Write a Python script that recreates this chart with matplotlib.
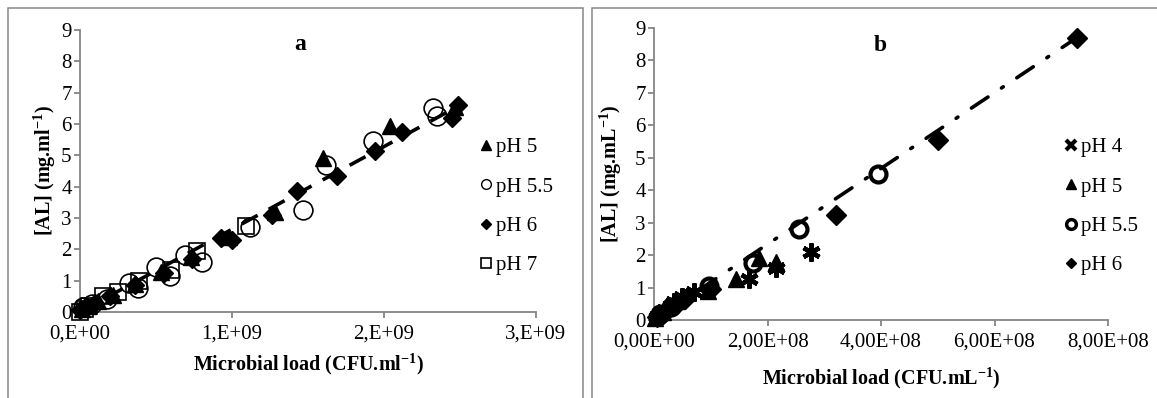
import matplotlib
matplotlib.use("Agg")
import matplotlib.pyplot as plt
from matplotlib.patches import Rectangle
from matplotlib.lines import Line2D
from matplotlib.ticker import FixedLocator, FixedFormatter

plt.rcParams['font.family'] = ['Liberation Serif', 'DejaVu Serif']
plt.rcParams['mathtext.fontset'] = 'custom'
plt.rcParams['mathtext.rm'] = 'Liberation Serif'
plt.rcParams['mathtext.bf'] = 'Liberation Serif:bold'
plt.rcParams['mathtext.it'] = 'Liberation Serif:italic'

# ---------------- Panel a data (x in CFU/ml) ----------------
a_ph5_x = [0.01e9, 0.05e9, 0.12e9, 0.22e9, 0.36e9, 0.53e9, 0.73e9, 0.98e9, 1.28e9, 1.60e9, 2.04e9, 2.47e9]
a_ph5_y = [0.10, 0.20, 0.35, 0.55, 0.90, 1.28, 1.75, 2.40, 3.20, 4.90, 5.95, 6.55]

a_ph55_x = [0.02e9, 0.08e9, 0.18e9, 0.32e9, 0.38e9, 0.50e9, 0.59e9, 0.69e9, 0.80e9, 1.12e9, 1.47e9, 1.62e9, 1.93e9, 2.32e9, 2.35e9]
a_ph55_y = [0.15, 0.25, 0.40, 0.93, 0.77, 1.44, 1.15, 1.82, 1.60, 2.70, 3.25, 4.70, 5.45, 6.50, 6.25]

a_ph6_x = [0.00e9, 0.04e9, 0.10e9, 0.20e9, 0.36e9, 0.55e9, 0.74e9, 0.93e9, 1.00e9, 1.26e9, 1.43e9, 1.69e9, 1.94e9, 2.12e9, 2.45e9, 2.49e9]
a_ph6_y = [0.05, 0.15, 0.30, 0.50, 0.86, 1.25, 1.70, 2.35, 2.30, 3.10, 3.85, 4.35, 5.15, 5.75, 6.20, 6.60]

a_ph7_x = [0.00e9, 0.03e9, 0.06e9, 0.15e9, 0.25e9, 0.39e9, 0.60e9, 0.77e9, 1.09e9]
a_ph7_y = [0.00, 0.10, 0.20, 0.50, 0.64, 1.00, 1.34, 1.95, 2.75]

a_trend_x = [0.0, 2.5e9]
a_trend_y = [0.0, 6.6]

a_xticks = [0, 1e9, 2e9, 3e9]
a_xticklabels = ["0,E+00", "1,E+09", "2,E+09", "3,E+09"]

# ---------------- Panel b data ----------------
b_ph4_x = [0.05e8, 0.20e8, 0.35e8, 0.50e8, 0.70e8, 1.67e8, 2.15e8, 2.77e8]
b_ph4_y = [0.10, 0.30, 0.55, 0.70, 0.85, 1.25, 1.60, 2.10]

b_ph5_x = [0.02e8, 0.15e8, 0.40e8, 0.95e8, 1.45e8, 1.85e8, 2.15e8]
b_ph5_y = [0.05, 0.25, 0.60, 0.90, 1.25, 1.90, 1.80]

b_ph55_x = [0.10e8, 0.30e8, 0.97e8, 1.75e8, 2.55e8, 3.95e8]
b_ph55_y = [0.20, 0.40, 1.05, 1.75, 2.80, 4.50]

b_ph6_x = [0.05e8, 0.15e8, 0.25e8, 0.40e8, 0.55e8, 1.00e8, 3.20e8, 5.00e8, 7.45e8]
b_ph6_y = [0.10, 0.20, 0.35, 0.50, 0.65, 0.95, 3.25, 5.55, 8.70]

b_trend_x = [0.0, 7.45e8]
b_trend_y = [0.0, 8.70]

b_xticks = [0, 2e8, 4e8, 6e8, 8e8]
b_xticklabels = ["0,00E+00", "2,00E+08", "4,00E+08", "6,00E+08", "8,00E+08"]

yticks = list(range(10))

W, H = 1157, 398
fig = plt.figure(figsize=(W / 100, H / 100), dpi=100)

GRAY = '#868686'
FS_TICK = 15
FS_LAB = 14.5
FS_LEG = 15

# panel borders
fig.patches.append(Rectangle((8 / W, -0.1), (583 - 8) / W, 1.1 - 8 / H, transform=fig.transFigure,
                             fill=False, edgecolor=GRAY, linewidth=1.1, zorder=0))
fig.patches.append(Rectangle((592 / W, -0.1), (1170 - 592) / W, 1.1 - 8 / H, transform=fig.transFigure,
                             fill=False, edgecolor=GRAY, linewidth=1.1, zorder=0))


def style_axes(ax, xticks, xlabels, xmax):
    ax.set_xlim(0, xmax)
    ax.set_ylim(0, 9)
    for s in ['top', 'right']:
        ax.spines[s].set_visible(False)
    for s in ['left', 'bottom']:
        ax.spines[s].set_color(GRAY)
        ax.spines[s].set_linewidth(1.3)
    ax.xaxis.set_major_locator(FixedLocator(xticks))
    ax.xaxis.set_major_formatter(FixedFormatter(xlabels))
    ax.set_yticks(yticks)
    ax.set_yticklabels([str(v) for v in yticks])
    ax.tick_params(axis='both', direction='out', length=4, width=1.3, color=GRAY,
                   labelsize=FS_TICK, labelcolor='black')
    ax.tick_params(axis='y', pad=2)
    ax.tick_params(axis='x', pad=5)
    ax.patch.set_alpha(0)


def leg_handle(marker, ms, filled, mew, label):
    return Line2D([], [], linestyle='none', marker=marker, ms=ms,
                  mfc='black' if filled else 'none', mec='black', mew=mew, label=label)


# ---------------- Panel a ----------------
axa = fig.add_axes([80 / W, 1 - 312 / H, (536 - 80) / W, (312 - 30) / H])
style_axes(axa, a_xticks, a_xticklabels, 3e9)
axa.plot(a_trend_x, a_trend_y, color='black', lw=2.6, linestyle=(0, (5, 3.5)), zorder=2)
axa.plot(a_ph5_x, a_ph5_y, linestyle='none', marker='^', ms=11, mfc='black', mec='black', zorder=3, clip_on=False)
axa.plot(a_ph55_x, a_ph55_y, linestyle='none', marker='o', ms=13.5, mfc='none', mec='black', mew=1.2, zorder=3, clip_on=False)
axa.plot(a_ph6_x, a_ph6_y, linestyle='none', marker='D', ms=9.5, mfc='black', mec='black', zorder=3, clip_on=False)
axa.plot(a_ph7_x, a_ph7_y, linestyle='none', marker='s', ms=12, mfc='none', mec='black', mew=1.2, zorder=3, clip_on=False)
axa.set_xlabel(r'Microbial load (CFU.ml$^{\mathbf{-1}}$)', fontsize=FS_LAB, fontweight='bold', labelpad=6)
axa.set_ylabel(r'[AL] (mg.ml$^{\mathbf{-1}}$)', fontsize=FS_LAB, fontweight='bold', labelpad=2)
axa.text((300 - 80) / 456, (312 - 45) / 282, 'a', transform=axa.transAxes, fontsize=17,
         fontweight='bold', ha='center', va='center')
handles_a = [leg_handle('^', 7, True, 1, 'pH 5'), leg_handle('o', 7, False, 1, 'pH 5.5'),
             leg_handle('D', 5.5, True, 1, 'pH 6'), leg_handle('s', 7, False, 1.2, 'pH 7')]
fig.legend(handles=handles_a, loc='center left', bbox_to_anchor=(480 / W, 1 - 206.5 / H),
           frameon=False, fontsize=FS_LEG, handlelength=0.6, handletextpad=0.15,
           labelspacing=0.95, borderpad=0, borderaxespad=0)

# ---------------- Panel b ----------------
axb = fig.add_axes([654 / W, 1 - 320 / H, (1108 - 654) / W, (320 - 28) / H])
style_axes(axb, b_xticks, b_xticklabels, 8e8)
axb.plot(b_trend_x, b_trend_y, color='black', lw=2.6, linestyle=(0, (5.5, 4.5, 0.6, 4.5)), dash_capstyle='round',
         zorder=2)
axb.plot(b_ph4_x, b_ph4_y, linestyle='none', marker=(6, 2, 0), ms=13, mfc='black', mec='black', mew=3.2, zorder=3, clip_on=False)
axb.plot(b_ph5_x, b_ph5_y, linestyle='none', marker='^', ms=12, mfc='black', mec='black', zorder=3, clip_on=False)
axb.plot(b_ph55_x, b_ph55_y, linestyle='none', marker='o', ms=11.5, mfc='none', mec='black', mew=3, zorder=3, clip_on=False)
axb.plot(b_ph6_x, b_ph6_y, linestyle='none', marker='D', ms=10.5, mfc='black', mec='black', zorder=3, clip_on=False)
axb.set_xlabel(r'Microbial load (CFU.mL$^{\mathbf{-1}}$)', fontsize=FS_LAB, fontweight='bold', labelpad=10)
axb.set_ylabel(r'[AL] (mg.mL$^{\mathbf{-1}}$)', fontsize=FS_LAB, fontweight='bold', labelpad=8)
axb.text((880 - 654) / 454, (320 - 45) / 292, 'b', transform=axb.transAxes, fontsize=17,
         fontweight='bold', ha='center', va='center')
handles_b = [leg_handle('x', 7, True, 3, 'pH 4'), leg_handle('^', 7, True, 1, 'pH 5'),
             leg_handle('o', 7, False, 2.5, 'pH 5.5'), leg_handle('D', 5.5, True, 1, 'pH 6')]
fig.legend(handles=handles_b, loc='center left', bbox_to_anchor=(1065 / W, 1 - 206.5 / H),
           frameon=False, fontsize=FS_LEG, handlelength=0.6, handletextpad=0.15,
           labelspacing=0.95, borderpad=0, borderaxespad=0)

fig.savefig('out.png', dpi=100)
